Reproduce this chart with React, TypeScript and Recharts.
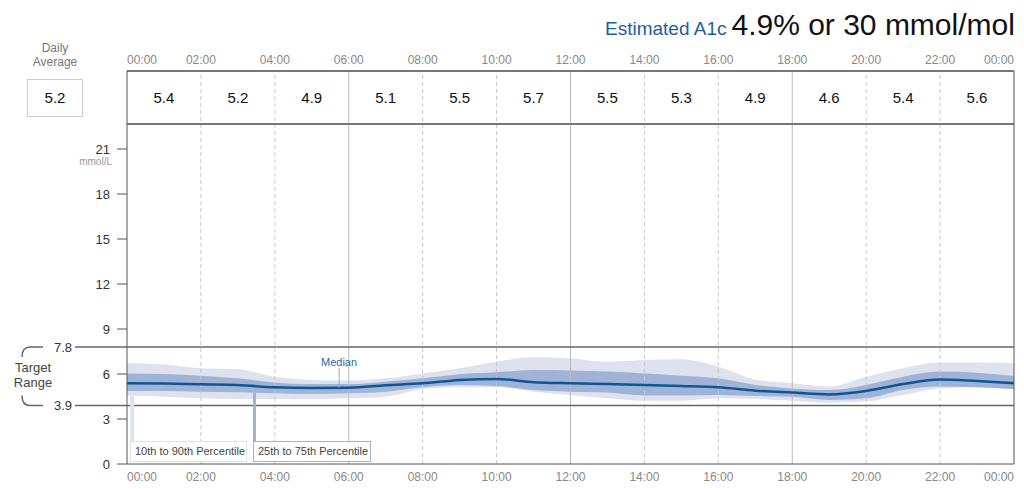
import React from 'react';
import {
  ComposedChart, Area, Line, Scatter, XAxis, YAxis, ReferenceLine
} from 'recharts';

const hours = [0, 1, 2, 3, 4, 5, 6, 7, 8, 9, 10, 11, 12, 13, 14, 15, 16, 17, 18, 19, 20, 21, 22, 23, 24];
const median = [5.38, 5.36, 5.31, 5.27, 5.11, 5.07, 5.09, 5.25, 5.38, 5.6, 5.67, 5.45, 5.38, 5.33, 5.27, 5.2, 5.11, 4.89, 4.76, 4.64, 4.87, 5.33, 5.64, 5.53, 5.38];
const p25 = [4.87, 4.87, 4.82, 4.78, 4.71, 4.67, 4.71, 4.82, 5.11, 5.27, 5.2, 4.93, 4.82, 4.76, 4.56, 4.56, 4.6, 4.53, 4.49, 4.27, 4.38, 4.93, 5.16, 5.11, 4.98];
const p75 = [6.04, 6.0, 5.89, 5.71, 5.44, 5.33, 5.33, 5.49, 5.71, 5.98, 6.11, 6.27, 6.24, 6.16, 6.04, 5.89, 5.71, 5.27, 5.04, 4.93, 5.27, 5.82, 6.16, 6.09, 5.87];
const p10 = [4.56, 4.49, 4.38, 4.33, 4.33, 4.33, 4.38, 4.49, 4.98, 5.11, 5.11, 4.82, 4.6, 4.38, 4.22, 4.22, 4.38, 4.33, 4.22, 4.09, 4.16, 4.6, 5.04, 5.11, 4.98];
const p90 = [6.71, 6.64, 6.38, 6.31, 5.82, 5.6, 5.56, 5.71, 6.04, 6.38, 6.82, 7.11, 7.04, 6.82, 6.93, 6.98, 6.49, 5.64, 5.38, 5.16, 5.82, 6.38, 6.76, 6.76, 6.71];

const timeTicks = [0, 2, 4, 6, 8, 10, 12, 14, 16, 18, 20, 22, 24];
const cellCenters = [1, 3, 5, 7, 9, 11, 13, 15, 17, 19, 21, 23];
const cellAverages = [5.4, 5.2, 4.9, 5.1, 5.5, 5.7, 5.5, 5.3, 4.9, 4.6, 5.4, 5.6];
const glucoseTicks = [0, 3, 3.9, 6, 7.8, 9, 12, 15, 18, 21];
const targetLow = 3.9;
const targetHigh = 7.8;
const dailyAverage = 5.2;

// plot scale: header band sits above the glucose area
const PLOT_TOP = 22.667;
const HEADER_TOP = 26.2;
const HEADER_MID = (PLOT_TOP + HEADER_TOP) / 2;

const rows = hours.map((h, i) => ({
  hour: h,
  median: median[i],
  inner: [p25[i], p75[i]],
  outer: [p10[i], p90[i]],
}));

const cells = cellCenters.map((h, i) => ({ hour: h, y: HEADER_MID, v: cellAverages[i] }));

const FONT = "'Liberation Sans', Arial, sans-serif";
const OUTER = '#dde2ee';
const INNER = '#9fb3d6';
const MEDIAN = '#0f5593';

const fmtTime = (h: number) => `${String(h % 24).padStart(2, '0')}:00`;

const TimeTick = ({ x, y, payload, top }: any) => {
  const v = payload.value;
  const anchor = v === 0 ? 'start' : v === 24 ? 'end' : 'middle';
  return (
    <text x={x} y={top ? y + 1 : y} dy={top ? 0 : '0.71em'} textAnchor={anchor}
      fill="#888" fontSize={12} fontFamily={FONT}>
      {fmtTime(v)}
    </text>
  );
};

const GlucoseTick = ({ x, y, payload }: any) => {
  const v = payload.value;
  if (v === targetHigh || v === targetLow) {
    const up = v === targetHigh;
    return (
      <g>
        <line x1={75} y1={y} x2={x + 8} y2={y} stroke="#666" strokeWidth={1.5} />
        <text x={72} y={y} dy="0.35em" textAnchor="end" fill="#333" fontSize={13} fontFamily={FONT}>{v}</text>
        <path d={up ? `M43 ${y} L30 ${y} Q22 ${y} 22 ${y + 10}` : `M43 ${y} L30 ${y} Q22 ${y} 22 ${y - 10}`}
          fill="none" stroke="#666" strokeWidth={1.5} />
        {up && (
          <text x={33} y={y + 25} textAnchor="middle" fill="#444" fontSize={13} fontFamily={FONT}>
            <tspan x={33}>Target</tspan>
            <tspan x={33} dy={15}>Range</tspan>
          </text>
        )}
      </g>
    );
  }
  return (
    <g>
      <line x1={x - 2} y1={y} x2={x + 8} y2={y} stroke="#555" strokeWidth={1} />
      <text x={x - 9} y={y} dy="0.35em" textAnchor="end" fill="#333" fontSize={13} fontFamily={FONT}>{v}</text>
      {v === 21 && (
        <text x={112} y={y + 16} textAnchor="end" fill="#999" fontSize={10} fontFamily={FONT}>mmol/L</text>
      )}
    </g>
  );
};

const CellValue = (props: any) => (
  <text x={props.cx} y={props.cy} dy="0.35em" textAnchor="middle" fill="#111" fontSize={15} fontFamily={FONT}>
    {props.payload.v}
  </text>
);

const legendBox: React.CSSProperties = {
  position: 'absolute', top: 441, height: 21, background: '#fff', fontSize: 11, whiteSpace: 'nowrap',
  color: '#444', fontFamily: FONT, lineHeight: '18px', paddingLeft: 4, boxSizing: 'border-box',
};

export default function App() {
  return (
    <div style={{ position: 'absolute', left: 0, top: 0, width: 1024, height: 489, background: '#fff', fontFamily: FONT }}>
      <ComposedChart width={1024} height={489} data={rows} margin={{ top: 51, right: 10, bottom: 0, left: 0 }}>
        <XAxis dataKey="hour" type="number" domain={[0, 24]} ticks={timeTicks} height={25}
          axisLine={{ stroke: '#555' }} tickLine={false} tick={<TimeTick />} interval={0} />
        <XAxis xAxisId="top" orientation="top" type="number" domain={[0, 24]} ticks={timeTicks} height={20}
          axisLine={{ stroke: '#777', strokeWidth: 2 }} tickLine={false} tick={<TimeTick top />} interval={0} />
        <YAxis type="number" domain={[0, HEADER_TOP]} ticks={glucoseTicks} width={127} interval={0}
          axisLine={{ stroke: '#555' }} tickLine={false} tick={<GlucoseTick />} />

        {timeTicks.slice(1, -1).map(t => (
          <ReferenceLine key={t} x={t} stroke={t % 6 === 0 ? '#bbb' : '#c8c8c8'}
            strokeDasharray={t % 6 === 0 ? undefined : '4 3'} />
        ))}

        <Area type="monotone" dataKey="outer" stroke="none" fill={OUTER} fillOpacity={1} isAnimationActive={false} />
        <Area type="monotone" dataKey="inner" stroke="none" fill={INNER} fillOpacity={1} isAnimationActive={false} />
        <Line type="monotone" dataKey="median" stroke={MEDIAN} strokeWidth={2.5} dot={false} isAnimationActive={false} />

        <ReferenceLine y={PLOT_TOP} stroke="#777" strokeWidth={2} />
        <ReferenceLine y={targetHigh} stroke="#666" strokeWidth={1.5} />
        <ReferenceLine y={targetLow} stroke="#666" strokeWidth={1.5} />
        <ReferenceLine x={24} stroke="#555" />

        <ReferenceLine segment={[{ x: 0.14, y: 4.55 }, { x: 0.14, y: 1.45 }]} stroke={OUTER} strokeWidth={4} />
        <ReferenceLine segment={[{ x: 3.45, y: 4.75 }, { x: 3.45, y: 1.45 }]} stroke={INNER} strokeWidth={3} />
        <ReferenceLine segment={[{ x: 5.74, y: 6.4 }, { x: 5.74, y: 5.1 }]} stroke="#8fb0d6" strokeWidth={1} />

        <Scatter data={cells} dataKey="y" shape={<CellValue />} isAnimationActive={false} />
      </ComposedChart>

      <div style={{ position: 'absolute', left: 605, top: 8, whiteSpace: 'nowrap' }}>
        <span style={{ color: '#1e5f99', fontSize: 19 }}>Estimated A1c</span>
        <span style={{ color: '#111', fontSize: 30, marginLeft: 5 }}>4.9% or 30 mmol/mol</span>
      </div>

      <div style={{ position: 'absolute', left: 20, top: 41, width: 70, textAlign: 'center', color: '#777', fontSize: 12, lineHeight: '14px' }}>
        Daily<br />Average
      </div>
      <div style={{ position: 'absolute', left: 27, top: 79, width: 54, height: 36, border: '1px solid #ccc', textAlign: 'center', lineHeight: '36px', fontSize: 15, color: '#111' }}>
        {dailyAverage}
      </div>

      <div style={{ position: 'absolute', left: 321, top: 356, color: '#2a6aa8', fontSize: 11 }}>Median</div>
      <div style={{ ...legendBox, left: 130, width: 117, border: `1.5px solid ${OUTER}` }}>10th to 90th Percentile</div>
      <div style={{ ...legendBox, left: 253, width: 118, border: `1.5px solid ${INNER}` }}>25th to 75th Percentile</div>
    </div>
  );
}
